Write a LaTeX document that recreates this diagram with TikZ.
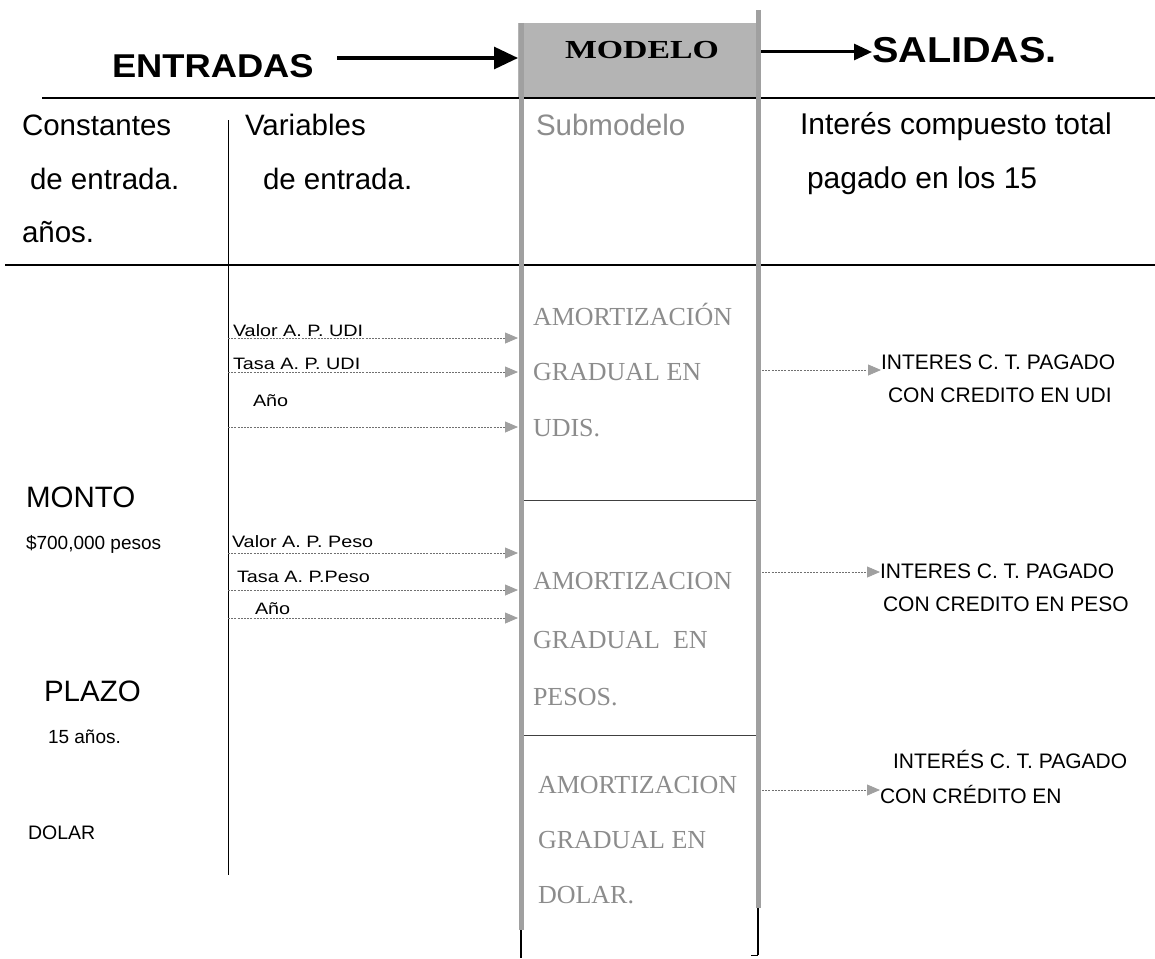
\documentclass[tikz,border=0pt]{standalone}
\usepackage{fontspec}
\setmainfont{Liberation Sans}
\newfontfamily\headfont{Liberation Sans}[FakeStretch=1.1]
\newfontfamily\modelofont{Liberation Serif}[FakeStretch=1.3]
\newfontfamily\subfont{Liberation Serif}
\newfontfamily\varfont{Liberation Sans}[FakeStretch=1.2]
\usetikzlibrary{arrows.meta}
\definecolor{stip}{HTML}{A0A0A0}
\definecolor{boxfill}{HTML}{B4B4B4}
\definecolor{subgray}{HTML}{8C8C8C}
\definecolor{dotc}{HTML}{707070}
\begin{document}
\begin{tikzpicture}[x=1pt,y=-1pt,
  txt/.style={inner sep=0pt,outer sep=0pt,anchor=base west},
  hdr/.style={txt,font=\fontsize{29.5}{29.5}\selectfont},
  big/.style={txt,font=\headfont\bfseries\fontsize{33}{33}\selectfont},
  subtxt/.style={txt,font=\subfont\fontsize{26}{26}\selectfont,text=subgray},
  vartxt/.style={txt,font=\varfont\fontsize{16.5}{16.5}\selectfont},
  outtxt/.style={txt,font=\fontsize{21}{21}\selectfont},
  consttxt/.style={txt,font=\fontsize{19}{19}\selectfont},
  bigarrow/.style={line width=3pt,-{Triangle[length=24pt,width=22pt]}},
  smallarrow/.style={line width=3pt,-{Triangle[length=18pt,width=16pt]}},
  dotarrow/.style={dotc,line width=0.8pt,dash pattern=on 2pt off 1.2pt,
     -{Triangle[length=13pt,width=11pt,color=stip]}},
  column/.style={stip,line width=5pt},
  rule/.style={line width=1.8pt},
  sep/.style={black!75,line width=0.8pt}]
\useasboundingbox (0,0) rectangle (1155,958);

% ---- header ----
\node[big] (ent) at (112,77) {ENTRADAS};
\node[fill=boxfill,inner sep=0pt,outer sep=0pt,minimum width=241pt,minimum height=74pt,anchor=north west] (modbox) at (518,23) {};
\node[inner sep=0pt,anchor=base,font=\modelofont\bfseries\fontsize{26}{26}\selectfont] (modelo) at (642,59) {MODELO};
\node[txt,font=\headfont\bfseries\fontsize{36}{36}\selectfont] (sal) at (872,63) {SALIDAS.};
\coordinate (a1) at (337,58);
\draw[bigarrow] (a1) -- (a1 -| modbox.west);
\coordinate (a2) at (759,52);
\draw[smallarrow] (a2) -- (a2 -| sal.west);

% ---- rules ----
\draw[rule] (42,98) -- (1155,98);
\draw[rule] (5,265) -- (1155,265);
\draw[line width=1pt] (228,120) -- (228,875);

% ---- model column ----
\draw[column] (521,23) -- (521,930);
\draw[line width=2pt] (521,930) -- (521,958);
\draw[column] (758,10) -- (758,908);
\draw[line width=2pt] (758,908) -- (758,955);
\draw[line width=1pt] (751,955) -- (758,955);
\draw[sep] (524,500) -- (756,500);
\draw[sep] (524,735) -- (756,735);
\coordinate (colL) at (518,0);

% ---- column headers ----
\node[hdr] (c1) at (22,135) {Constantes};
\node[hdr] (c2) at (30,189) {de entrada.};
\node[hdr] (c3) at (22,242) {años.};
\node[hdr] (v1) at (245,135) {Variables};
\node[hdr] (v2) at (263,189) {de entrada.};
\node[hdr,text=subgray] (sm) at (536,135) {Submodelo};
\node[txt,font=\fontsize{30}{30}\selectfont] (o1) at (800,134) {Interés compuesto total};
\node[txt,font=\fontsize{30}{30}\selectfont] (o2) at (807,188) {pagado en los 15};

% ---- constants ----
\node[hdr] (monto) at (26,507) {MONTO};
\node[consttxt] (montov) at (26,549) {\$700,000 pesos};
\node[hdr] (plazo) at (44,701) {PLAZO};
\node[consttxt] (plazov) at (48,743) {15 años.};
\node[txt,font=\fontsize{19.5}{19.5}\selectfont] (dolar) at (28,839) {DOLAR};

% ---- submodels ----
\node[subtxt] (u1) at (533,325) {AMORTIZACIÓN};
\node[subtxt] (u2) at (533,380) {GRADUAL EN};
\node[subtxt] (u3) at (533,436) {UDIS.};
\node[subtxt] (p1) at (533,589) {AMORTIZACION};
\node[subtxt] (p2) at (533,648) {GRADUAL\ \ EN};
\node[subtxt] (p3) at (533,705) {PESOS.};
\node[subtxt] (d1) at (538,793) {AMORTIZACION};
\node[subtxt] (d2) at (538,848) {GRADUAL EN};
\node[subtxt] (d3) at (538,903) {DOLAR.};

% ---- input variables ----
\node[vartxt] (vu1) at (233,336) {Valor A. P. UDI};
\node[vartxt] (vu2) at (233,369) {Tasa A. P. UDI};
\node[vartxt] (vu3) at (253,406) {Año};
\node[vartxt] (vp1) at (232,547) {Valor A. P. Peso};
\node[vartxt] (vp2) at (237,582) {Tasa A. P.Peso};
\node[vartxt] (vp3) at (255,614) {Año};
\coordinate (iu1) at (228,338);
\coordinate (iu2) at (228,372);
\coordinate (iu3) at (228,427);
\coordinate (ip1) at (228,553);
\coordinate (ip2) at (228,590);
\coordinate (ip3) at (228,618);
\foreach \c in {iu1,iu2,iu3,ip1,ip2,ip3}
  \draw[dotarrow] (\c) -- (\c -| colL);

% ---- outputs ----
\node[outtxt] (ou1) at (881,369.5) {INTERES C. T. PAGADO};
\node[outtxt] (ou2) at (888,402) {CON CREDITO EN UDI};
\node[outtxt] (op1) at (880,578) {INTERES C. T. PAGADO};
\node[outtxt] (op2) at (883,611) {CON CREDITO EN PESO};
\node[outtxt] (od1) at (893,768) {INTERÉS C. T. PAGADO};
\node[outtxt] (od2) at (880,803) {CON CRÉDITO EN};
\coordinate (su) at (762,370);
\coordinate (sp) at (762,572);
\coordinate (sd) at (762,790);
\draw[dotarrow] (su) -- (su -| ou1.west);
\draw[dotarrow] (sp) -- (sp -| op1.west);
\draw[dotarrow] (sd) -- (sd -| od2.west);
\end{tikzpicture}
\end{document}
